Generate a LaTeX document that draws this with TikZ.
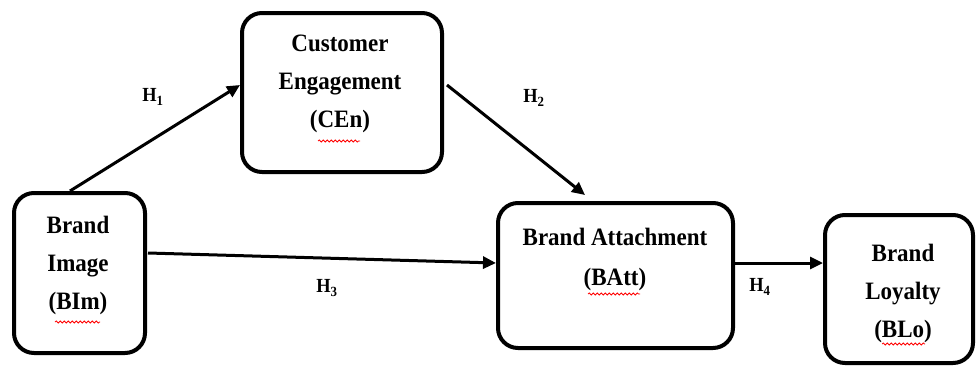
\documentclass[tikz,border=0pt]{standalone}
\usepackage{fontspec}
\setmainfont{Liberation Serif}[FakeStretch=0.92]
\usetikzlibrary{arrows.meta,decorations.pathmorphing}
\begin{document}
\begin{tikzpicture}[x=1pt,y=-1pt,
  box/.style={draw=black,line width=4pt,rounded corners=20pt,inner sep=0pt},
  txt/.style={align=center,inner sep=0pt,font=\fontsize{25}{38}\selectfont\bfseries},
  hlab/.style={inner sep=0pt,font=\fontsize{20}{24}\selectfont\bfseries},
  conn/.style={line width=3pt,-{Triangle[length=13pt,width=12pt]}},
  squig/.style={red,line width=0.8pt,decorate,decoration={snake,amplitude=1pt,segment length=4pt}}]
\useasboundingbox (0,0) rectangle (977,367);
% boxes
\node[box,minimum width=131pt,minimum height=160pt] (bim) at (79.5,273) {};
\node[box,minimum width=200pt,minimum height=159pt] (cen) at (342,92.5) {};
\node[box,minimum width=235pt,minimum height=145pt] (batt) at (615.5,275.5) {};
\node[box,minimum width=148pt,minimum height=148pt] (blo) at (899,289) {};
% texts
\node[txt] (bimT) at (78,265) {Brand\\Image\\(BIm)};
\node[txt] (cenT) at (340,84) {Customer\\Engagement\\(CEn)};
\node[txt,font=\fontsize{25}{40}\selectfont\bfseries] (battT) at (615,259) {Brand Attachment\\(BAtt)};
\node[txt] (bloT) at (903,293) {Brand\\Loyalty\\(BLo)};
% connectors
\draw[conn] ([xshift=-9.5pt]bim.north) -- ([yshift=7.5pt]cen.west);
\draw[conn] ([xshift=3pt,yshift=7.5pt]cen.east) -- ([xshift=-30.5pt,yshift=6pt]batt.north);
\draw[conn] ([xshift=1pt,yshift=20pt]bim.east) -- ([yshift=12.5pt]batt.west);
\draw[conn] ([yshift=12.5pt]batt.east) -- ([yshift=26pt]blo.west);
% labels
\node[hlab] (h1) at (153,97) {H\textsubscript{1}};
\node[hlab] (h2) at (534,98) {H\textsubscript{2}};
\node[hlab] (h3) at (327,288) {H\textsubscript{3}};
\node[hlab] (h4) at (760,287) {H\textsubscript{4}};
% spell-check marks
\draw[squig] (55,322) -- (100,322);
\draw[squig] (318,141) -- (360,141);
\draw[squig] (588,294) -- (640,294);
\draw[squig] (882,344) -- (925,344);
\end{tikzpicture}
\end{document}
